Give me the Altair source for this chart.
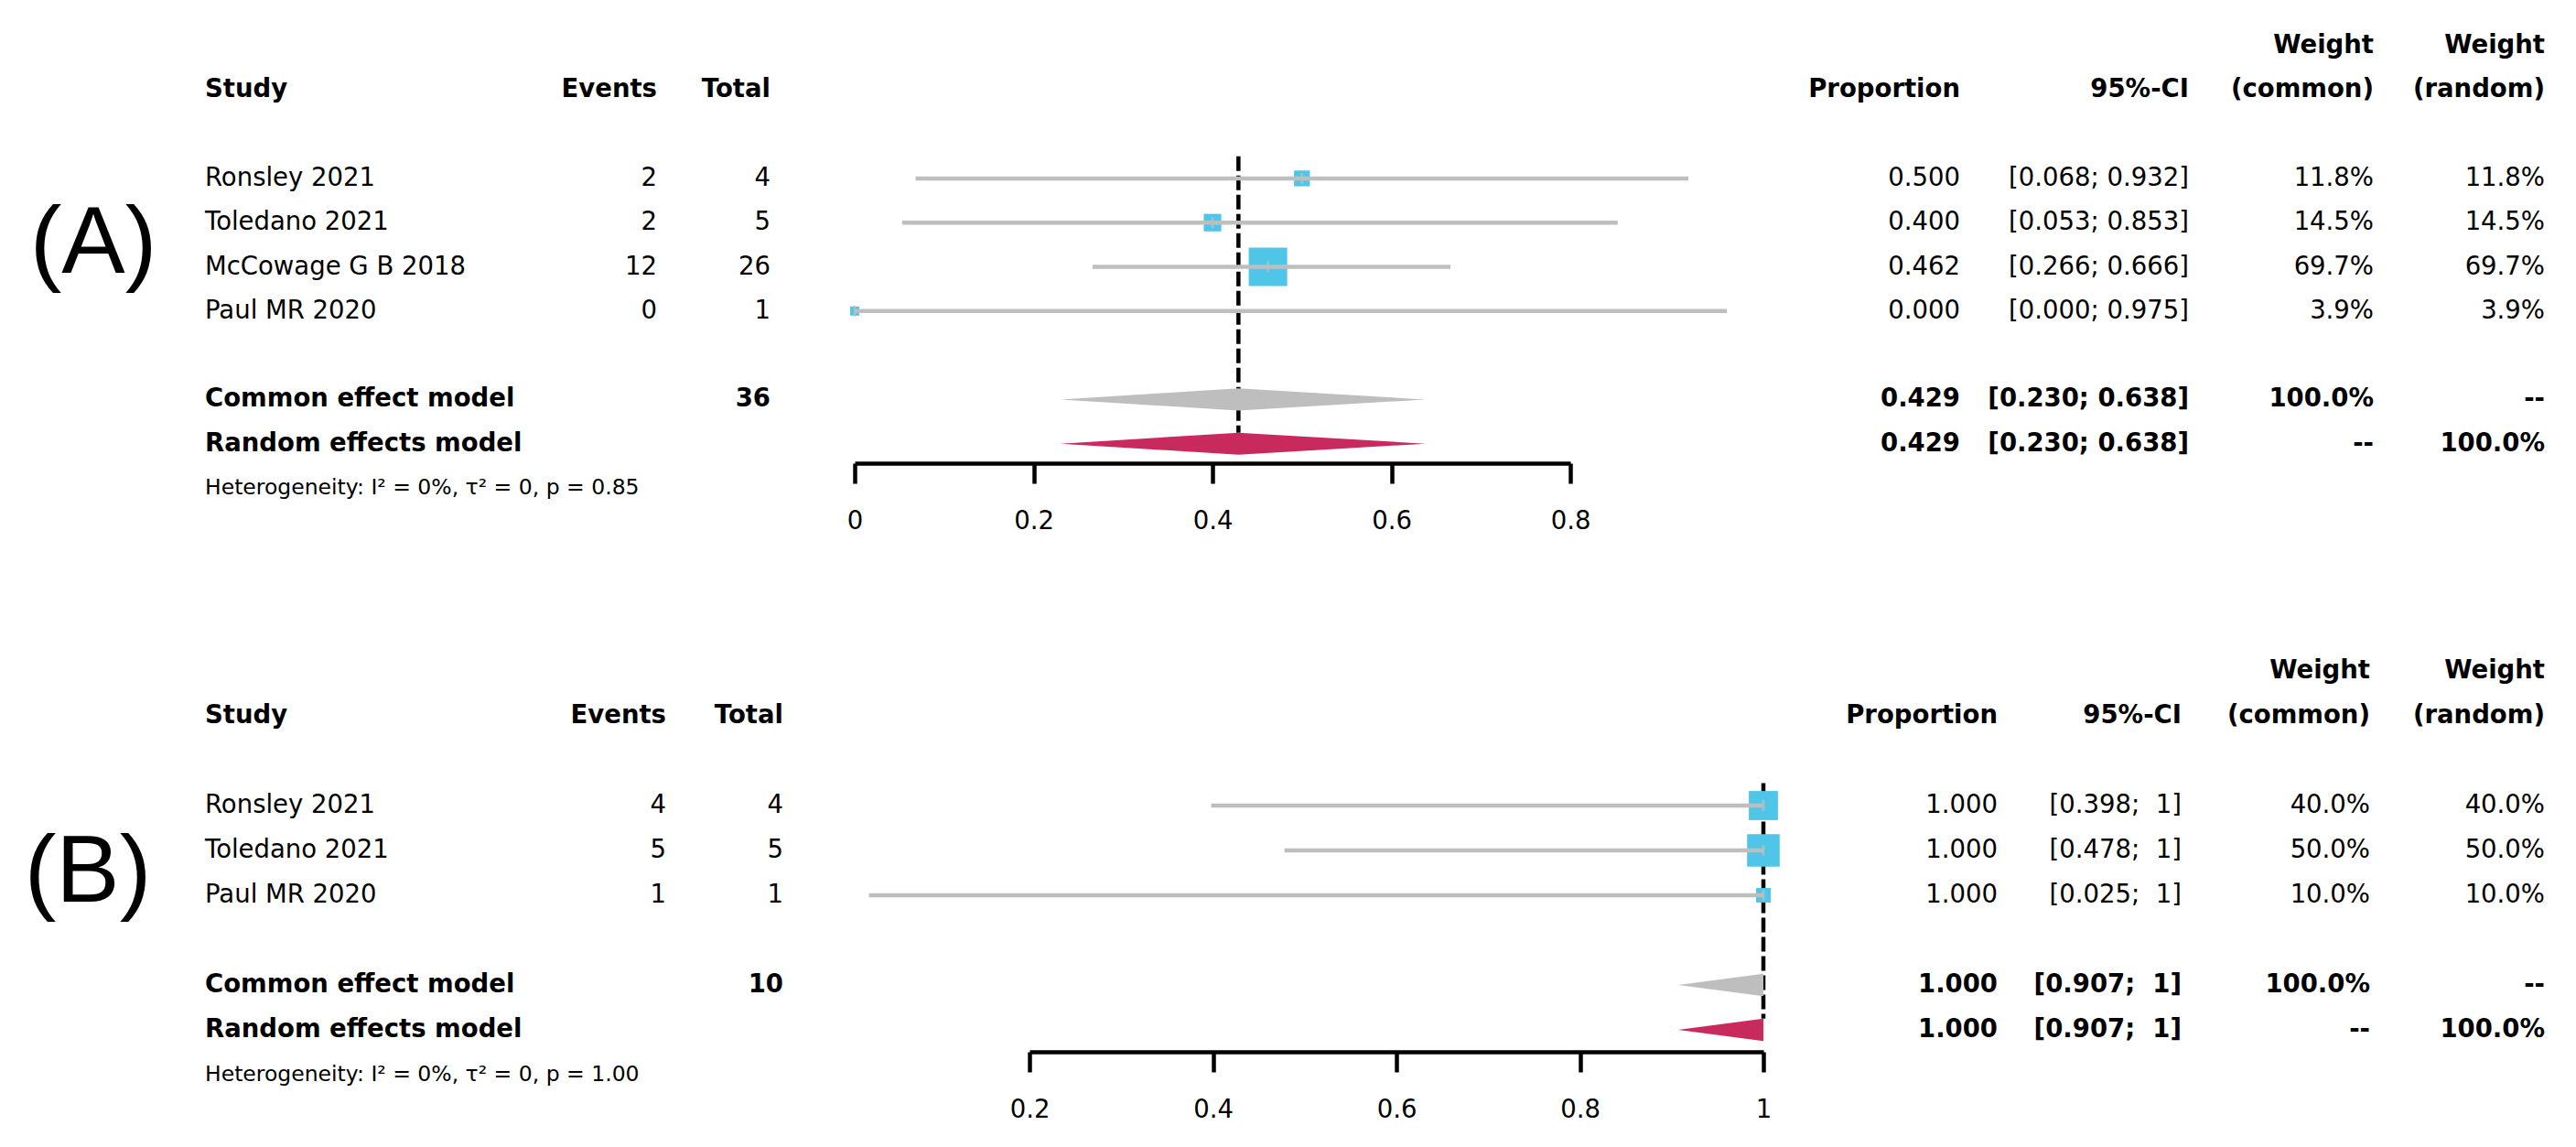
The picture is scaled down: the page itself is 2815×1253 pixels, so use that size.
import altair as alt
import pandas as pd

# ---------------- Panel A data ----------------
A_LABEL = "(A)"
A_STUDY = ["Ronsley 2021", "Toledano 2021", "McCowage G B 2018", "Paul MR 2020"]
A_EVENTS = [2, 2, 12, 0]
A_TOTAL = [4, 5, 26, 1]
A_PROP = [0.500, 0.400, 0.462, 0.000]
A_LOWER = [0.068, 0.053, 0.266, 0.000]
A_UPPER = [0.932, 0.853, 0.666, 0.975]
A_W_COMMON = [11.8, 14.5, 69.7, 3.9]
A_W_RANDOM = [11.8, 14.5, 69.7, 3.9]
A_COMMON = [0.429, 0.230, 0.638]   # estimate, lower, upper
A_RANDOM = [0.429, 0.230, 0.638]
A_POOLED_TOTAL = 36
A_HET = "Heterogeneity: I² = 0%, τ² = 0, p = 0.85"
A_TICKS = [0, 0.2, 0.4, 0.6, 0.8]

# ---------------- Panel B data ----------------
B_LABEL = "(B)"
B_STUDY = ["Ronsley 2021", "Toledano 2021", "Paul MR 2020"]
B_EVENTS = [4, 5, 1]
B_TOTAL = [4, 5, 1]
B_PROP = [1.000, 1.000, 1.000]
B_LOWER = [0.398, 0.478, 0.025]
B_UPPER = [1.0, 1.0, 1.0]
B_W_COMMON = [40.0, 50.0, 10.0]
B_W_RANDOM = [40.0, 50.0, 10.0]
B_COMMON = [1.000, 0.907, 1.0]
B_RANDOM = [1.000, 0.907, 1.0]
B_POOLED_TOTAL = 10
B_HET = "Heterogeneity: I² = 0%, τ² = 0, p = 1.00"
B_TICKS = [0.2, 0.4, 0.6, 0.8, 1]

# ---------------- styles ----------------
FONT = "DejaVu Sans"
FS = 27.5
FS_HET = 23.5
BOX = "#4FC6E8"
GRAY = "#BEBEBE"
RED = "#C92A5E"
LINE_W = 4.5
DIAMOND_H = 0.25   # half height of summary diamonds, in row units
BOX_MAX = 42 * 42  # area of the largest square


def fmt_num(v):
    return "1" if v == 1 else f"{v:.3f}"


def fmt_ci(lo, hi):
    hs = fmt_num(hi)
    sep = ";\u00a0\u00a0" if hs == "1" else "; "
    return f"[{fmt_num(lo)}{sep}{hs}]"


def panel(label, study, events, total, prop, lower, upper, wc, wr, common, random,
          pooled_total, het, ticks, x_domain, x_range, y_range, cols, height):
    n = len(study)
    rows = [3 + i for i in range(n)]
    r_common = 3 + n + 1
    r_random = r_common + 1
    r_het = r_random + 1

    ys = alt.Scale(domain=[0, 10], range=y_range)
    xs = alt.Scale(domain=x_domain, range=x_range)
    axis = alt.Axis(values=ticks, format="~g", title=None, grid=False,
                    domainColor="black", domainWidth=LINE_W,
                    tickColor="black", tickWidth=LINE_W, tickSize=22,
                    labelFont=FONT, labelFontSize=FS, labelColor="black",
                    labelPadding=27, labelFlush=False, labelOverlap=False)

    def X(field):
        return alt.X(field, type="quantitative", scale=xs, axis=axis)

    def Y(field):
        return alt.Y(field, type="quantitative", scale=ys, axis=None)

    layers = []

    # reference dashed line at the pooled estimate
    ref = pd.DataFrame({"x": [common[0]], "y": [2.5], "y2": [r_random - DIAMOND_H]})
    layers.append(alt.Chart(ref).mark_rule(color="black", strokeWidth=LINE_W,
                                           strokeDash=[16, 5]).encode(
        x=X("x"), y=Y("y"), y2="y2:Q"))

    sd = pd.DataFrame({"row": rows, "prop": prop, "lower": lower,
                       "upper": upper, "w": wc})
    # weight squares
    layers.append(alt.Chart(sd).mark_square(color=BOX, opacity=1, strokeWidth=0).encode(
        x=X("prop"), y=Y("row"),
        size=alt.Size("w:Q", scale=alt.Scale(domain=[0, max(wc)], range=[0, BOX_MAX]),
                      legend=None)))
    # confidence intervals
    layers.append(alt.Chart(sd).mark_rule(color=GRAY, strokeWidth=LINE_W).encode(
        x=X("lower"), x2="upper:Q", y=Y("row")))
    # point marks
    layers.append(alt.Chart(sd).mark_tick(color=GRAY, orient="vertical",
                                          size=12, thickness=3).encode(
        x=X("prop"), y=Y("row")))

    # summary diamonds (polygon lower -> estimate -> upper)
    def diamond(model, r, color):
        est, lo, hi = model
        pts = []
        if lo < est:
            pts.append((lo, r, r))
        pts.append((est, r - DIAMOND_H, r + DIAMOND_H))
        if hi > est:
            pts.append((hi, r, r))
        d = pd.DataFrame(pts, columns=["x", "y", "y2"])
        return alt.Chart(d).mark_area(color=color, opacity=1,
                                      orient="vertical").encode(
            x=X("x"), y=Y("y"), y2="y2:Q")

    layers.append(diamond(common, r_common, GRAY))
    layers.append(diamond(random, r_random, RED))

    # ---- text table ----
    items = []
    B = True
    items += [("wc", 0, "Weight", B, FS), ("wr", 0, "Weight", B, FS),
              ("study", 1, "Study", B, FS), ("events", 1, "Events", B, FS),
              ("total", 1, "Total", B, FS), ("prop", 1, "Proportion", B, FS),
              ("ci", 1, "95%-CI", B, FS), ("wc", 1, "(common)", B, FS),
              ("wr", 1, "(random)", B, FS)]
    for i in range(n):
        r = rows[i]
        items += [("study", r, study[i], False, FS),
                  ("events", r, str(events[i]), False, FS),
                  ("total", r, str(total[i]), False, FS),
                  ("prop", r, f"{prop[i]:.3f}", False, FS),
                  ("ci", r, fmt_ci(lower[i], upper[i]), False, FS),
                  ("wc", r, f"{wc[i]:.1f}%", False, FS),
                  ("wr", r, f"{wr[i]:.1f}%", False, FS)]
    items += [("study", r_common, "Common effect model", B, FS),
              ("total", r_common, str(pooled_total), B, FS),
              ("prop", r_common, f"{common[0]:.3f}", B, FS),
              ("ci", r_common, fmt_ci(common[1], common[2]), B, FS),
              ("wc", r_common, "100.0%", B, FS),
              ("wr", r_common, "--", B, FS)]
    items += [("study", r_random, "Random effects model", B, FS),
              ("prop", r_random, f"{random[0]:.3f}", B, FS),
              ("ci", r_random, fmt_ci(random[1], random[2]), B, FS),
              ("wc", r_random, "--", B, FS),
              ("wr", r_random, "100.0%", B, FS)]
    items += [("study", r_het, het, False, FS_HET)]

    tdf = pd.DataFrame(items, columns=["col", "row", "text", "bold", "size"])
    for (col, bold, size), g in tdf.groupby(["col", "bold", "size"]):
        px, align = cols[col]
        layers.append(alt.Chart(g[["row", "text"]]).mark_text(
            font=FONT, fontSize=size, fontWeight="bold" if bold else "normal",
            align=align, baseline="middle", color="black").encode(
            x=alt.value(px), y=Y("row"), text="text:N"))

    # panel label
    lab = pd.DataFrame({"row": [4.5], "text": [label]})
    px, align = cols["label"]
    layers.append(alt.Chart(lab).mark_text(
        font="Liberation Sans", fontSize=104, align=align, baseline="middle",
        color="black").encode(x=alt.value(px), y=Y("row"), text="text:N"))

    return alt.layer(*layers).properties(width=2790, height=height)


COLS_A = {"label": (94, "center"), "study": (216, "left"), "events": (710, "right"),
          "total": (834, "right"), "prop": (2134, "right"), "ci": (2384, "right"),
          "wc": (2586, "right"), "wr": (2773, "right")}
COLS_B = {"label": (88, "center"), "study": (216, "left"), "events": (720, "right"),
          "total": (848, "right"), "prop": (2175, "right"), "ci": (2376, "right"),
          "wc": (2582, "right"), "wr": (2773, "right")}

pa = panel(A_LABEL, A_STUDY, A_EVENTS, A_TOTAL, A_PROP, A_LOWER, A_UPPER,
           A_W_COMMON, A_W_RANDOM, A_COMMON, A_RANDOM, A_POOLED_TOTAL, A_HET, A_TICKS,
           x_domain=[0, 0.8], x_range=[926, 1708], y_range=[42, 525],
           cols=COLS_A, height=498)
pb = panel(B_LABEL, B_STUDY, B_EVENTS, B_TOTAL, B_PROP, B_LOWER, B_UPPER,
           B_W_COMMON, B_W_RANDOM, B_COMMON, B_RANDOM, B_POOLED_TOTAL, B_HET, B_TICKS,
           x_domain=[0.2, 1], x_range=[1117, 1919], y_range=[85, 575],
           cols=COLS_B, height=501)

chart = alt.vconcat(pa, pb, spacing=142, bounds="flush").properties(
    padding=0, background="white").configure_view(stroke=None)

chart.save("out.html", embed_options={"renderer": "svg", "actions": False})
